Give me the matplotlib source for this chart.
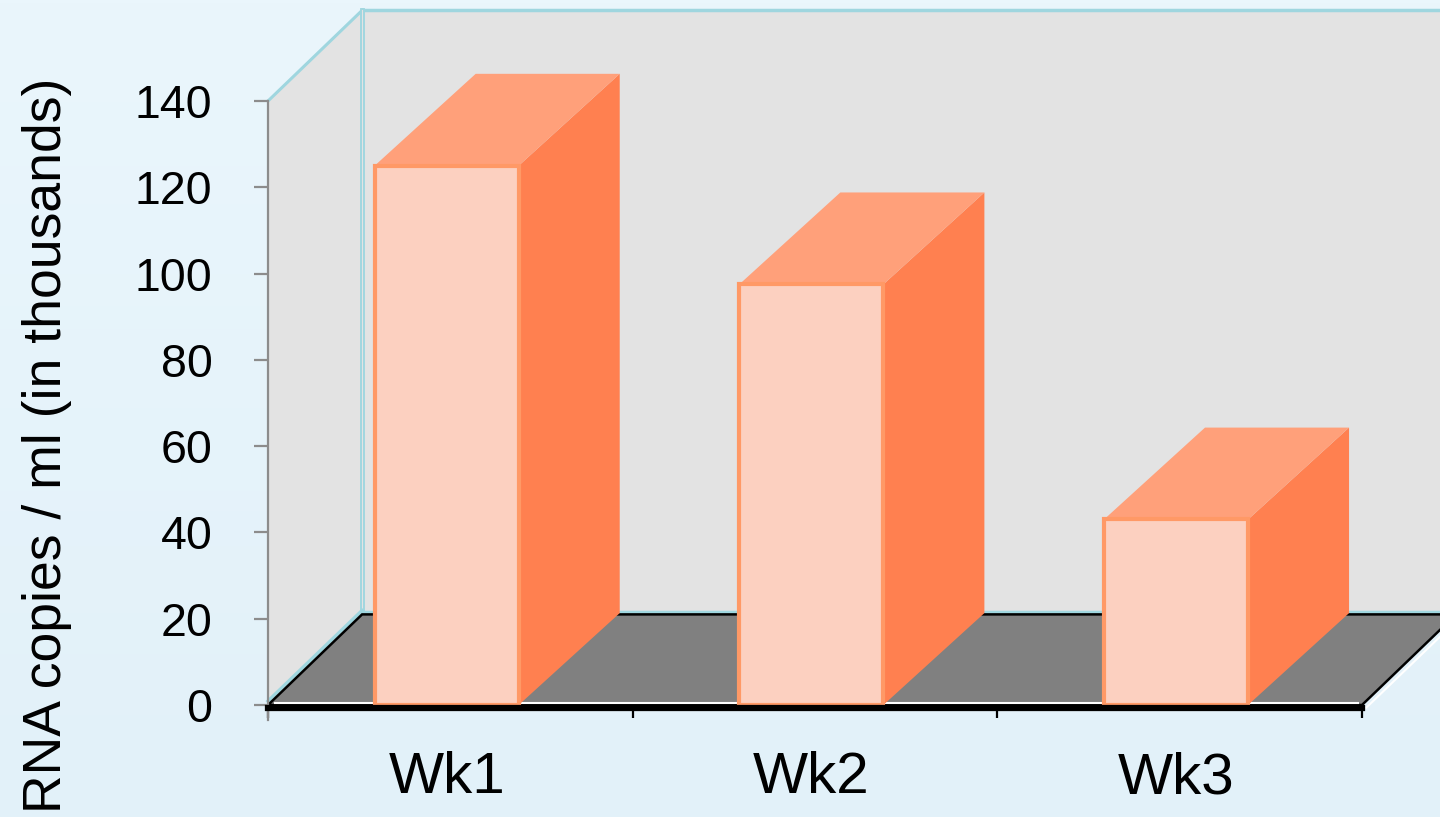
import numpy as np
import matplotlib
matplotlib.use("Agg")
import matplotlib.pyplot as plt
from matplotlib.patches import Polygon, Rectangle
from matplotlib.colors import LinearSegmentedColormap

plt.rcParams['font.family'] = ['Liberation Sans', 'DejaVu Sans']

# Data
categories = ["Wk1", "Wk2", "Wk3"]
values = [125, 97.5, 43]
y_ticks = [0, 20, 40, 60, 80, 100, 120, 140]
y_label = "RNA copies / ml (in thousands)"

# Colours
BG_TOP = "#eaf6fc"
BG_BOTTOM = "#e2f1f9"
WALL = "#e3e3e3"
FLOOR = "#808080"
CYAN = "#9fd6df"
FRONT = "#fcd0c0"
EDGE = "#ff9966"
TOP = "#ffa07a"
SIDE = "#ff8050"
AXIS_GREY = "#8c8c8c"

# Depth of the pseudo-3D box (x in category units, y in value units)
WALL_DX, WALL_DY = 0.258, 21.0
BAR_DX, BAR_DY = 0.277, 21.3
BAR_W = 0.395
BAR_SHIFT = -0.01

fig = plt.figure(figsize=(14.4, 8.17), dpi=100)

# Soft blue background
bg = fig.add_axes([0, 0, 1, 1], zorder=0)
grad = np.linspace(0, 1, 256)[:, None]
cmap = LinearSegmentedColormap.from_list("bg", [BG_TOP, BG_BOTTOM])
bg.imshow(grad, aspect="auto", cmap=cmap, extent=[0, 1, 0, 1])
bg.set_axis_off()

ax = fig.add_axes([268 / 1440, 112 / 817, 1094 / 1440, 604 / 817], zorder=1)
ax.set_facecolor("none")
n = len(categories)
ymax = y_ticks[-1]
ax.set_xlim(0, n)
ax.set_ylim(0, ymax)

# Back wall
ax.add_patch(Rectangle((WALL_DX, WALL_DY), n + 0.5, ymax, facecolor=WALL,
                       edgecolor="none", clip_on=False, zorder=1))
ax.plot([WALL_DX, n + 1], [ymax + WALL_DY] * 2, color=CYAN, lw=2.5,
        clip_on=False, zorder=1.5, solid_capstyle="butt")
ax.plot([WALL_DX, WALL_DX], [WALL_DY, ymax + WALL_DY], color=CYAN, lw=3.5,
        clip_on=False, zorder=1.5)
ax.plot([WALL_DX, WALL_DX], [WALL_DY, ymax + WALL_DY], color=WALL, lw=0.8,
        clip_on=False, zorder=1.6)

# Left side wall
ax.add_patch(Polygon([(0, 0), (0, ymax), (WALL_DX, ymax + WALL_DY), (WALL_DX, WALL_DY)],
                     closed=True, facecolor=WALL, edgecolor="none",
                     clip_on=False, zorder=1.2))
ax.plot([0, WALL_DX], [ymax, ymax + WALL_DY], color=CYAN, lw=2.2,
        clip_on=False, zorder=1.5)

# Floor
floor = [(0, 0), (n, 0), (n + WALL_DX, WALL_DY), (WALL_DX, WALL_DY)]
ax.plot([0, WALL_DX], [0.9, WALL_DY + 0.9], color=CYAN, lw=2.5, clip_on=False, zorder=1.8)
ax.plot([WALL_DX, n + 1], [WALL_DY + 0.6] * 2, color=CYAN, lw=2.5, clip_on=False, zorder=1.8)
ax.add_patch(Polygon(floor, closed=True, facecolor=FLOOR, edgecolor="black",
                     lw=1.8, clip_on=False, zorder=2))
ax.plot([n + 0.012, n + WALL_DX + 0.012], [-0.6, WALL_DY - 0.6], color="white",
        lw=1.5, clip_on=False, zorder=2.1)
ax.plot([0.02, n - 0.01], [0.55, 0.55], color="white", lw=1.5, clip_on=False, zorder=2.1)

# Bars
centers = np.arange(n) + 0.5 + BAR_SHIFT
for c, v in zip(centers, values):
    x0, x1 = c - BAR_W / 2, c + BAR_W / 2
    side = [(x1, 0), (x1 + BAR_DX, BAR_DY), (x1 + BAR_DX, v + BAR_DY), (x1, v)]
    top = [(x0, v), (x1, v), (x1 + BAR_DX, v + BAR_DY), (x0 + BAR_DX, v + BAR_DY)]
    ax.add_patch(Polygon(side, closed=True, facecolor=SIDE, edgecolor="none",
                         clip_on=False, zorder=3))
    ax.add_patch(Polygon(top, closed=True, facecolor=TOP, edgecolor="none",
                         clip_on=False, zorder=3))
    ax.add_patch(Rectangle((x0, 0), BAR_W, v, facecolor=FRONT, edgecolor=EDGE,
                           lw=3, clip_on=False, zorder=4))

# Axes styling
for s in ["top", "right"]:
    ax.spines[s].set_visible(False)
ax.spines["left"].set_color(AXIS_GREY)
ax.spines["left"].set_linewidth(1.6)
ax.spines["left"].set_bounds(-3.5, ymax)
ax.spines["left"].set_zorder(5)
ax.spines["bottom"].set_color("black")
ax.spines["bottom"].set_linewidth(4.5)
ax.spines["bottom"].set_position(("outward", 2.2))
ax.spines["bottom"].set_zorder(5)

ax.set_yticks(y_ticks)
ax.set_yticklabels([str(t) for t in y_ticks])
ax.tick_params(axis="y", length=10, width=1.6, color=AXIS_GREY, pad=30,
               labelsize=33.5, labelcolor="black")

ax.set_xticks(np.arange(n + 1))
ax.set_xticklabels([])
ax.tick_params(axis="x", which="major", length=7, width=1.6, color="black")
ax.set_xticks(centers, minor=True)
ax.set_xticklabels(categories, minor=True)
ax.tick_params(axis="x", which="minor", length=0, pad=31, labelsize=42,
               labelcolor="black")

fig.text(61 / 1440, 4 / 817, y_label, rotation=90, rotation_mode="anchor",
         ha="left", va="baseline", fontsize=38.5, color="black")

fig.savefig("out.png", dpi=100)
